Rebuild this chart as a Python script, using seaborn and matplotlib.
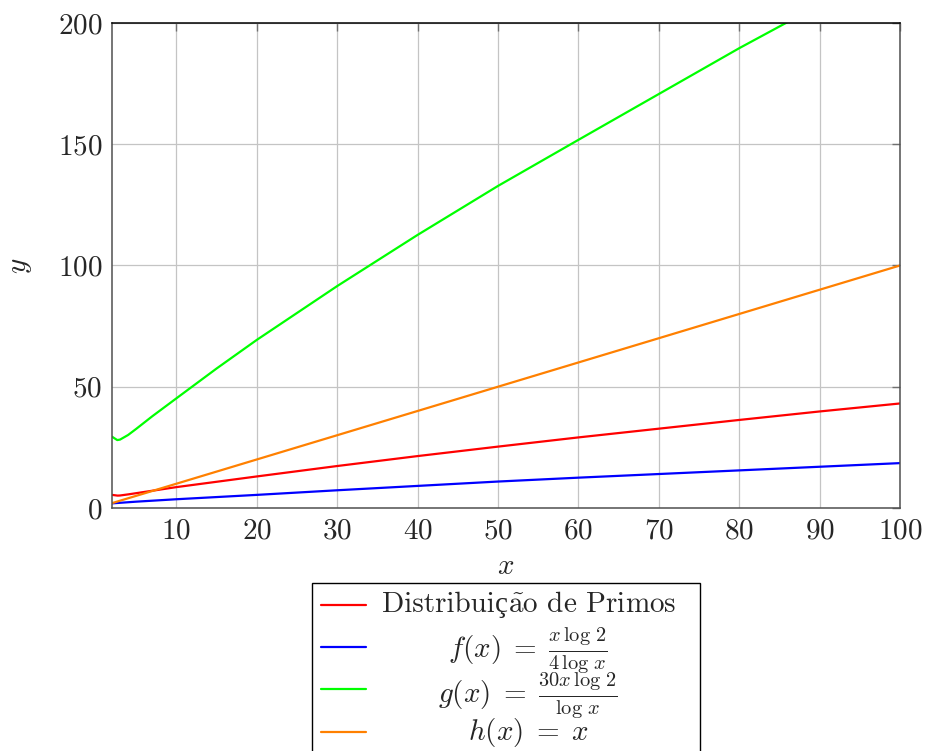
"""
Prime distribution vs. three comparison curves (pgfplots look-alike).
"""

import matplotlib
matplotlib.use("Agg")
import seaborn as sns
import matplotlib.pyplot as plt
from matplotlib.lines import Line2D
from matplotlib.patches import Rectangle
from matplotlib.offsetbox import TextArea, HPacker, AnnotationBbox

###
#Data

X_RED = [2, 2.7, 3, 4, 5, 7, 10, 20, 30, 40, 50, 60, 70, 80, 90, 100]
Y_RED = [5.4, 5.1, 5.15, 5.6, 6.1, 7.1, 8.6, 13.0, 17.3, 21.4, 25.3, 29.1, 32.7, 36.3, 39.8, 43.1]

X_BLUE = [2, 5, 10, 20, 30, 40, 50, 60, 70, 80, 90, 100]
Y_BLUE = [1.9, 2.6, 3.6, 5.4, 7.3, 9.1, 10.9, 12.5, 14.0, 15.5, 17.0, 18.5]

X_GREEN = [2, 2.65, 3, 4, 5, 7, 10, 15, 20, 30, 40, 50, 60, 70, 80, 90, 100]
Y_GREEN = [29.4, 28.0, 28.2, 30.1, 32.6, 37.8, 45.2, 57.5, 69.3, 91.5, 112.6, 132.8, 151.8, 170.7, 189.6, 207.5, 225.0]

X_ORANGE = [2, 100]
Y_ORANGE = [2, 100]

#first label is split so the cedilla comes from a font that really has it
LABEL_PRIMES = ["Distribui", "ç", r"$\tilde{\mathrm{a}}$o de Primos"]
LABELS_MATH = [
    r"$f(x)\;=\;\frac{x\,\log\,2}{4\,\log\,x}$",
    r"$g(x)\;=\;\frac{30x\,\log\,2}{\log\,x}$",
    r"$h(x)\;=\;x$",
]
COLORS = ["#ff0000", "#0000ff", "#00ff00", "#ff8000"]

XTICKS = list(range(10, 101, 10))
YTICKS = [0, 50, 100, 150, 200]

###
#Style

sns.set_theme(style="white")
plt.rcParams["font.family"] = ["cmr10", "Liberation Serif", "DejaVu Serif"]
plt.rcParams["mathtext.fontset"] = "cm"
plt.rcParams["axes.formatter.use_mathtext"] = True
FS = 21

fig = plt.figure(figsize=(9.25, 7.51), dpi=100)
ax = fig.add_axes([0.1211, 0.3236, 0.8519, 0.6458])

series = [(X_RED, Y_RED), (X_BLUE, Y_BLUE), (X_GREEN, Y_GREEN), (X_ORANGE, Y_ORANGE)]
for (xs, ys), col in zip(series, COLORS):
    sns.lineplot(x=xs, y=ys, color=col, lw=1.6, ax=ax)

ax.set_xlim(2, 100)
ax.set_ylim(0, 200)
ax.set_xticks(XTICKS)
ax.set_yticks(YTICKS)
ax.grid(True, color="#c4c4c4", lw=0.9)
ax.set_axisbelow(True)
for sp in ax.spines.values():
    sp.set_color("#505050")
    sp.set_linewidth(1.1)
ax.spines["top"].set_color("black")
ax.tick_params(axis="both", which="major", direction="in", top=True, right=True,
               length=6, width=1, color="#707070", labelsize=FS, pad=7)
ax.set_xlabel("$x$", fontsize=FS, labelpad=7)
ax.set_ylabel("$y$", fontsize=FS, labelpad=17)

###
#Legend box below the axes, text centred like pgfplots

fig.add_artist(Rectangle((0.337, -0.01), 0.4198, 0.2341, transform=fig.transFigure,
                         fill=False, edgecolor="black", lw=1.0))
rows = [0.1944, 0.1389, 0.0822, 0.0257]
for col, yy in zip(COLORS, rows):
    fig.add_artist(Line2D([0.3467, 0.3954], [yy, yy], transform=fig.transFigure,
                          color=col, lw=1.6))

fams = ["cmr10", "Liberation Serif", "cmr10"]
parts = [TextArea(s, textprops=dict(fontsize=FS, family=f)) for s, f in zip(LABEL_PRIMES, fams)]
box = HPacker(children=parts, align="baseline", pad=0, sep=0)
fig.add_artist(AnnotationBbox(box, (0.5725, 0.1944), xycoords=fig.transFigure,
                              frameon=False, box_alignment=(0.5, 0.5), pad=0))

text_rows = [0.1335, 0.0735, 0.0250]
for lab, ty in zip(LABELS_MATH, text_rows):
    fig.text(0.5708, ty, lab, ha="center", va="center", fontsize=FS)

fig.savefig("out.png", dpi=100)
